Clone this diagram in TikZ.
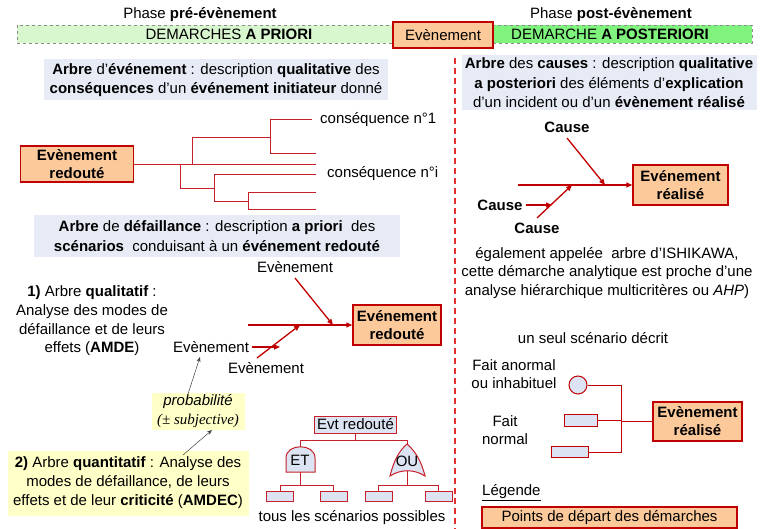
\documentclass[tikz,border=0pt]{standalone}
\usepackage{fontspec}
\setmainfont{Liberation Sans}
\newfontfamily\serifit{Liberation Serif}
\usetikzlibrary{arrows.meta}
\definecolor{dred}{HTML}{C00000}
\definecolor{lred}{HTML}{C8202A}
\definecolor{orfill}{HTML}{FCC99B}
\definecolor{bluebg}{HTML}{E6EBF5}
\definecolor{leaf}{HTML}{DCE3F2}
\definecolor{lgreen}{HTML}{D9F7CF}
\definecolor{bgreen}{HTML}{80F37E}
\definecolor{yel}{HTML}{FFFFC8}
\definecolor{dashred}{HTML}{E03030}
\tikzset{
  txt/.style={font=\fontsize{15}{18.7}\selectfont, inner sep=0pt, align=center},
  orbox/.style={draw=dred, line width=1.4pt, fill=orfill, font=\fontsize{15}{18}\selectfont\bfseries, align=center, inner sep=0pt},
  infobox/.style={fill=bluebg, inner sep=0pt, align=center, font=\fontsize{15}{19.5}\selectfont},
  yelbox/.style={fill=yel, inner sep=0pt, align=center, font=\fontsize{15}{19}\selectfont},
  tline/.style={draw=lred, line width=1pt},
  farrow/.style={draw=dred, line width=1.3pt, -{Triangle[length=6pt,width=5pt]}},
  thinarrow/.style={draw=black!75, line width=0.5pt, -{Stealth[length=5pt,width=4pt]}},
  leafbox/.style={draw=lred, fill=leaf, line width=1pt, minimum width=27pt, minimum height=10pt, inner sep=0pt},
  gate/.style={draw=lred, fill=leaf, line width=1pt},
  band/.style={draw=black!45, dashed, line width=0.5pt},
}
\begin{document}
\begin{tikzpicture}[x=1pt,y=-1pt]
\useasboundingbox (0,0) rectangle (760,529);
% top bands
\path[band, fill=lgreen] (17,25) rectangle (392,43);
\path[band, fill=bgreen] (493,25) rectangle (752,43);
\node[txt] (phpre) at (200,15) {Phase \textbf{pré-évènement}};
\node[txt] (phpost) at (611,15) {Phase \textbf{post-évènement}};
\node[txt] (dpri) at (229,34) {DEMARCHES \textbf{A PRIORI}};
\node[txt] (dpost) at (610,34) {DEMARCHE \textbf{A POSTERIORI}};
\node[orbox, font=\fontsize{15}{18}\selectfont, minimum width=100pt, minimum height=26pt] (evt) at (443,35) {Evènement};
% separator
\draw[dashred, line width=1.2pt, dash pattern=on 6pt off 4pt] (455,58) -- (455,529);

% ---------- left: event tree ----------
\node[infobox, minimum width=344pt, minimum height=41pt] (ib1) at (216,80)
 {\textbf{Arbre} d’\textbf{événement} : description \textbf{qualitative} des\\\textbf{conséquences} d’un \textbf{événement initiateur} donné};
\node[orbox, minimum width=113pt, minimum height=36pt] (root) at (77,164) {Evènement\\redouté};
\coordinate (e1) at (316,165);
\coordinate (j1) at (192,165);
\coordinate (j2) at (180,165);
\coordinate (j1t) at (192,138);
\coordinate (j3) at (270,138);
\coordinate (j3a) at (270,120);
\coordinate (j3b) at (270,154);
\coordinate (e2) at (312,120);
\coordinate (e3) at (316,154);
\coordinate (j2b) at (180,189);
\coordinate (j4) at (214,189);
\coordinate (j4a) at (214,175);
\coordinate (j4b) at (214,202);
\coordinate (e4) at (316,175);
\coordinate (j5) at (248,202);
\coordinate (j5a) at (248,193);
\coordinate (j5b) at (248,210);
\coordinate (e5) at (316,193);
\coordinate (e6) at (316,210);
\draw[tline] (root.east|-e1) -- (e1);
\draw[tline] (j1) -- (j1t) -- (j3);
\draw[tline] (j3a) -- (j3b);
\draw[tline] (j3a) -- (e2);
\draw[tline] (j3b) -- (e3);
\draw[tline] (j2) -- (j2b) -- (j4);
\draw[tline] (j4a) -- (j4b);
\draw[tline] (j4a) -- (e4);
\draw[tline] (j4b) -- (j5);
\draw[tline] (j5a) -- (j5b);
\draw[tline] (j5a) -- (e5);
\draw[tline] (j5b) -- (e6);
\node[txt, anchor=west] (c1) at (320,120) {conséquence n°1};
\node[txt, anchor=west] (ci) at (327,174) {conséquence n°i};

% ---------- left: fault tree description ----------
\node[infobox, minimum width=366pt, minimum height=42pt] (ib2) at (217,236)
 {\textbf{Arbre} de \textbf{défaillance} : description \textbf{a priori}\ \ des\\\textbf{scénarios}\ \ conduisant à un \textbf{événement redouté}};
\node[txt] (q1) at (92,321) {\textbf{1)} Arbre \textbf{qualitatif} :\\Analyse des modes de\\défaillance et de leurs\\effets (\textbf{AMDE})};

% fishbone 1
\node[orbox, minimum width=88pt, minimum height=40pt] (fb1) at (397,325) {Evénement\\redouté};
\node[txt] (ev1) at (295,267) {Evènement};
\node[txt] (ev2) at (211,347) {Evènement};
\node[txt] (ev3) at (266,368) {Evènement};
\coordinate (f1s) at (248,325);
\coordinate (f1t) at (295,278);
\coordinate (f1tj) at (333,325);
\coordinate (f1b) at (257,358);
\coordinate (f1bj) at (300,325);
\coordinate (f1m) at (280,347);
\draw[farrow] (f1s) -- (fb1.west);
\draw[farrow] (f1t) -- (f1tj);
\draw[farrow] (f1b) -- (f1bj);
\draw[farrow] (ev2.east) ++(3,0) coordinate (f1l) (f1l) -- (f1m);

% yellow boxes
\node[yelbox, minimum width=93pt, minimum height=37pt] (prob) at (198,411)
 {\textit{probabilité}\\{\serifit\itshape (± subjective)}};
\node[yelbox, minimum width=241pt, minimum height=65pt] (amdec) at (128,483)
 {\textbf{2)} Arbre \textbf{quantitatif} : Analyse des\\modes de défaillance, de leurs\\effets et de leur \textbf{criticité} (\textbf{AMDEC})};
\coordinate (pa1) at (188,394);
\coordinate (pa2) at (200,357);
\draw[thinarrow] (pa1) -- (pa2);
\coordinate (pb1) at (183,455);
\coordinate (pb2) at (212,430);
\draw[thinarrow] (pb1) -- (pb2);

% fault tree
\node[draw=lred, fill=leaf, line width=1pt, inner sep=0pt, minimum width=82pt, minimum height=17pt, font=\fontsize{15}{18}\selectfont] (evr) at (355.5,424.5) {Evt redouté};
\coordinate (ft1) at (355.5,440);
\coordinate (ftl) at (300,440);
\coordinate (ftr) at (407,440);
\draw[tline] (evr.south) -- (ft1);
\draw[tline] (ftl) -- (ftr);
\draw[tline] (ftl) -- (300,449);
\draw[tline] (ftr) -- (407,446);
\draw[gate] (286,472) -- (286,458) .. controls (286,443) and (315,443) .. (315,458) -- (315,472) -- cycle;
\node[txt] (et) at (300,460) {ET};
\draw[gate] (390,476) .. controls (394,460) and (399,451) .. (407,444) .. controls (415,451) and (421,460) .. (425,476) .. controls (414,469) and (401,469) .. (390,476) -- cycle;
\node[txt] (ou) at (407,461) {OU};
\node[leafbox] (l1) at (280,496) {};
\node[leafbox] (l2) at (333.5,496) {};
\node[leafbox] (l3) at (378.5,496) {};
\node[leafbox] (l4) at (438.5,496) {};
\coordinate (g1) at (300,472);
\coordinate (g1j) at (300,485);
\coordinate (g2) at (407,471);
\coordinate (g2j) at (407,485);
\draw[tline] (g1) -- (g1j);
\draw[tline] (g2) -- (g2j);
\draw[tline] (l1.north) -- (l1.north|-g1j) -- (l2.north|-g1j) -- (l2.north);
\draw[tline] (l3.north) -- (l3.north|-g2j) -- (l4.north|-g2j) -- (l4.north);
\node[txt] (tous) at (352,518) {tous les scénarios possibles};

% ---------- right: cause tree ----------
\node[infobox, minimum width=295pt, minimum height=55pt] (ib3) at (609,83)
 {\textbf{Arbre} des \textbf{causes} : description \textbf{qualitative}\\\textbf{a posteriori} des éléments d’\textbf{explication}\\d’un incident ou d’un \textbf{évènement réalisé}};
\node[orbox, minimum width=95pt, minimum height=40pt] (fb2) at (680.5,185) {Evénement\\réalisé};
\node[txt, font=\fontsize{15}{18}\selectfont\bfseries] (ca1) at (567,127) {Cause};
\node[txt, font=\fontsize{15}{18}\selectfont\bfseries] (ca2) at (500,205) {Cause};
\node[txt, font=\fontsize{15}{18}\selectfont\bfseries] (ca3) at (537,228) {Cause};
\coordinate (f2s) at (518,185);
\coordinate (f2t) at (567,138);
\coordinate (f2tj) at (605,185);
\coordinate (f2b) at (537,218);
\coordinate (f2bj) at (572,185);
\coordinate (f2m) at (552,205);
\draw[farrow] (f2s) -- (fb2.west);
\draw[farrow] (f2t) -- (f2tj);
\draw[farrow] (f2b) -- (f2bj);
\draw[farrow] (ca2.east) ++(3,0) coordinate (f2l) (f2l) -- (f2m);
\node[txt] (ishi) at (607,273) {également appelée\ \ arbre d’ISHIKAWA,\\cette démarche analytique est proche d’une\\analyse hiérarchique multicritères ou \textit{AHP})};

% ---------- right: single scenario ----------
\node[txt] (seul) at (593,338) {un seul scénario décrit};
\node[txt] (fan) at (514,374) {Fait anormal\\ou inhabituel};
\node[txt] (fno) at (505,430) {Fait\\normal};
\node[draw=dred, fill=leaf, line width=1pt, circle, minimum size=18pt, inner sep=0pt] (circ) at (578,385) {};
\node[draw=dred, fill=leaf, line width=1pt, inner sep=0pt, minimum width=33pt, minimum height=12pt] (r1) at (580.5,420) {};
\node[draw=dred, fill=leaf, line width=1pt, inner sep=0pt, minimum width=37pt, minimum height=11pt] (r2) at (569.5,452) {};
\node[orbox, minimum width=89pt, minimum height=39pt] (fb3) at (697.5,421.5) {Evènement\\réalisé};
\coordinate (sv) at (621,385);
\coordinate (sm) at (621,421.5);
\draw[draw=dred, line width=1pt] (circ.east) -- (sv) -- (sv|-r2.east) -- (r2.east);
\draw[draw=dred, line width=1pt] (r1.east) -- (r1.east-|sv);
\draw[draw=dred, line width=1pt] (sm) -- (fb3.west);

% legend
\node[txt, anchor=west] (leg) at (482,493) {\underline{Légende}};
\node[orbox, font=\fontsize{15}{18}\selectfont, minimum width=255pt, minimum height=21pt] (legbox) at (609.5,517.5) {Points de départ des démarches};
\end{tikzpicture}
\end{document}
